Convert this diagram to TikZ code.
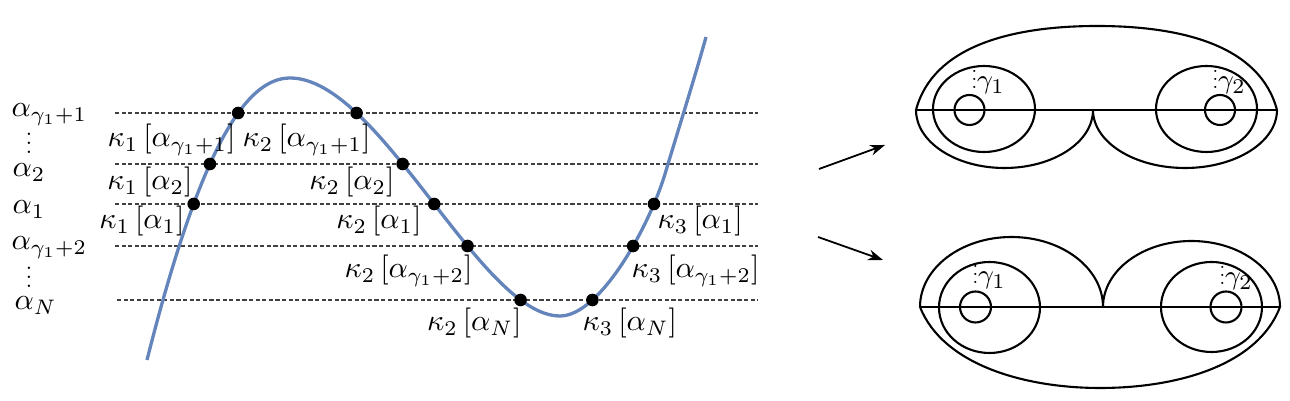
\documentclass[tikz,border=0pt]{standalone}
\usepackage{graphicx}
\usetikzlibrary{intersections,arrows.meta}
\definecolor{curveblue}{RGB}{100,132,188}
\newcommand{\dotcol}{\vbox{\baselineskip4pt\lineskiplimit0pt\hbox{.}\hbox{.}\hbox{.}}}
\newcommand{\myvdots}{\scalebox{0.75}{\dotcol}}
\newcommand{\smallvdots}{\scalebox{0.7}{\dotcol}}
\begin{document}
\begin{tikzpicture}[x=0.3333pt,y=-0.3333pt,
  dashline/.style={black!75, line width=0.35pt, dash pattern=on 1.4pt off 0.8pt},
  curvestyle/.style={curveblue, line width=1.1pt},
  dot/.style={circle, fill=black, inner sep=0pt, minimum size=4.2pt},
  lab/.style={inner sep=0pt, anchor=base west},
  labe/.style={inner sep=0pt, anchor=base east},
  vdotsnode/.style={inner sep=0pt, anchor=base},
  glab/.style={inner sep=0pt, anchor=base west, font=\fontsize{9.5}{10}\selectfont},
  surf/.style={line width=0.7pt},
  arr/.style={line width=0.6pt, -{Stealth[length=5pt,width=3.6pt]}},
]
\useasboundingbox (0,0) rectangle (1290,401);

% dashed levels
\coordinate (L1w) at (115,113); \coordinate (L1e) at (758,113);
\coordinate (L2w) at (115,164); \coordinate (L2e) at (758,164);
\coordinate (L3w) at (115,204); \coordinate (L3e) at (758,204);
\coordinate (L4w) at (115,246); \coordinate (L4e) at (758,246);
\coordinate (L5w) at (117,300); \coordinate (L5e) at (758,300);
\draw[dashline, name path=L1] (L1w) -- (L1e);
\draw[dashline, name path=L2] (L2w) -- (L2e);
\draw[dashline, name path=L3] (L3w) -- (L3e);
\draw[dashline, name path=L4] (L4w) -- (L4e);
\draw[dashline, name path=L5] (L5w) -- (L5e);

% curve
\coordinate (cs) at (147,360);
\coordinate (cpk) at (290,78);
\coordinate (cmin) at (560,316);
\coordinate (cj) at (665,174);
\coordinate (ce) at (706,37);
\draw[curvestyle, name path=curve] (cs) .. controls (200,150) and (245,78) .. (cpk)
  .. controls (380,78) and (480,316) .. (cmin)
  .. controls (600,316) and (649,226.8) .. (cj)
  .. controls (677,134) and (697,70) .. (ce);

% intersections
\path[name intersections={of=curve and L1, sort by=L1, name=iA}];
\path[name intersections={of=curve and L2, sort by=L2, name=iB}];
\path[name intersections={of=curve and L3, sort by=L3, name=iC}];
\path[name intersections={of=curve and L4, sort by=L4, name=iD}];
\path[name intersections={of=curve and L5, sort by=L5, name=iE}];

\node[dot] (k1g) at (iA-1) {};
\node[dot] (k2g) at (iA-2) {};
\node[dot] (k1b) at (iB-1) {};
\node[dot] (k2b) at (iB-2) {};
\node[dot] (k1a) at (iC-1) {};
\node[dot] (k2a) at (iC-2) {};
\node[dot] (k3a) at (iC-3) {};
\node[dot] (k2h) at (iD-2) {};
\node[dot] (k3h) at (iD-3) {};
\node[dot] (k2n) at (iE-2) {};
\node[dot] (k3n) at (iE-3) {};

% left level labels
\node[lab] (aG) at (11,117) {$\alpha_{\gamma_1+1}$};
\node[vdotsnode] (vd1) at (29,154) {\myvdots};
\node[lab] (a2) at (12,177) {$\alpha_2$};
\node[lab] (a1) at (12,214) {$\alpha_1$};
\node[lab] (aH) at (11,250) {$\alpha_{\gamma_1+2}$};
\node[vdotsnode] (vd2) at (29,288) {\myvdots};
\node[lab] (aN) at (14,310) {$\alpha_N$};

% point labels
\node[labe] (t1g) at (236,147) {$\kappa_1\left[\alpha_{\gamma_1+1}\right]$};
\node[lab]  (t2g) at (242,147) {$\kappa_2\left[\alpha_{\gamma_1+1}\right]$};
\node[labe] (t1b) at (193,190) {$\kappa_1\left[\alpha_2\right]$};
\node[labe] (t2b) at (395,190) {$\kappa_2\left[\alpha_2\right]$};
\node[labe] (t1a) at (185,229) {$\kappa_1\left[\alpha_1\right]$};
\node[labe] (t2a) at (422,229) {$\kappa_2\left[\alpha_1\right]$};
\node[lab]  (t3a) at (657,229) {$\kappa_3\left[\alpha_1\right]$};
\node[labe] (t2h) at (473,278) {$\kappa_2\left[\alpha_{\gamma_1+2}\right]$};
\node[lab]  (t3h) at (631,278) {$\kappa_3\left[\alpha_{\gamma_1+2}\right]$};
\node[labe] (t2n) at (522,331) {$\kappa_2\left[\alpha_N\right]$};
\node[lab]  (t3n) at (582,331) {$\kappa_3\left[\alpha_N\right]$};

% arrows
\coordinate (a1s) at (819,169); \coordinate (a1e) at (885,145);
\coordinate (a2s) at (818,237); \coordinate (a2e) at (883,260);
\draw[arr] (a1s) -- (a1e);
\draw[arr] (a2s) -- (a2e);

% top surface
\coordinate (tL) at (916,110); \coordinate (tR) at (1277,110); \coordinate (tM) at (1093,110);
\draw[surf] (tL) -- (tR);
\draw[surf] (tL) .. controls (933,46) and (1012,26) .. (1097,26)
  .. controls (1183,26) and (1260,46) .. (tR);
\draw[surf] (tL) arc[start angle=180, end angle=0, x radius=88.5, y radius=58];
\draw[surf] (tM) arc[start angle=180, end angle=0, x radius=92, y radius=58];
\draw[surf] (984,109) ellipse [x radius=51, y radius=43];
\draw[surf] (969.5,110) circle [radius=15];
\draw[surf] (1206.5,109) ellipse [x radius=50.5, y radius=43];
\draw[surf] (1220,110) circle [radius=15];
\node[glab] (g1t) at (971,89) {\smallvdots$\gamma_1$};
\node[glab] (g2t) at (1212,89) {\smallvdots$\gamma_2$};

% bottom surface
\coordinate (bL) at (920,307); \coordinate (bR) at (1280,307); \coordinate (bM) at (1103,307);
\draw[surf] (bL) -- (bR);
\draw[surf] (bL) .. controls (943,365) and (1025,388) .. (1100,388)
  .. controls (1178,388) and (1258,365) .. (bR);
\draw[surf] (bL) arc[start angle=180, end angle=360, x radius=91.5, y radius=70];
\draw[surf] (bM) arc[start angle=180, end angle=360, x radius=88.5, y radius=66];
\draw[surf] (989.5,307.5) ellipse [x radius=50.5, y radius=45.5];
\draw[surf] (975.5,307) circle [radius=15.5];
\draw[surf] (1211.5,307) ellipse [x radius=50.5, y radius=45];
\draw[surf] (1226,307) circle [radius=15.5];
\node[glab] (g1b) at (972,284) {\smallvdots$\gamma_1$};
\node[glab] (g2b) at (1219,285) {\smallvdots$\gamma_2$};
\end{tikzpicture}
\end{document}
